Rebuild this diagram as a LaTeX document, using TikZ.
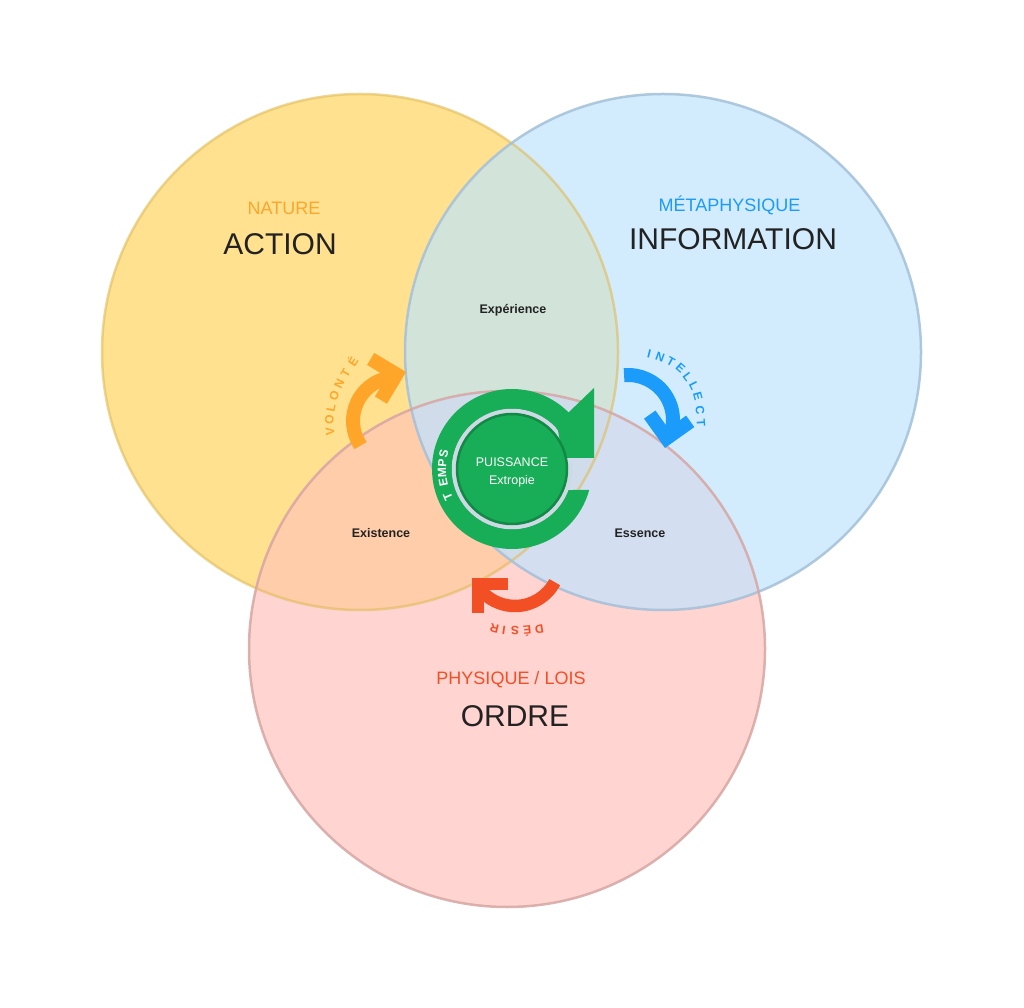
\documentclass[tikz,border=0pt]{standalone}
\usepackage{fontspec}
\setmainfont{Liberation Sans}
\usetikzlibrary{calc}
\definecolor{cy}{HTML}{FFE18F}
\definecolor{cb}{HTML}{D2ECFD}
\definecolor{cr}{HTML}{FFD4D1}
\definecolor{cyb}{HTML}{D2E4DA}
\definecolor{cyr}{HTML}{FFCDAA}
\definecolor{cbr}{HTML}{D3DFF1}
\definecolor{cybr}{HTML}{D0DCEA}
\definecolor{ybord}{HTML}{E0BB58}
\definecolor{bbord}{HTML}{A4C0D8}
\definecolor{rbord}{HTML}{D6A6A3}
\definecolor{gr}{HTML}{18AD57}
\definecolor{grdark}{HTML}{128A45}
\definecolor{ringgray}{HTML}{CFD9E5}
\definecolor{orangec}{HTML}{FFA52A}
\definecolor{bluec}{HTML}{1B9BFA}
\definecolor{redc}{HTML}{F24F25}
\definecolor{txtdark}{HTML}{222222}
\tikzset{
  biglabel/.style={font=\fontsize{30}{32}\selectfont, text=txtdark, anchor=base, inner sep=0pt},
  catlabel/.style={font=\fontsize{18}{20}\selectfont, anchor=base, inner sep=0pt},
  zonelabel/.style={font=\bfseries\fontsize{12.5}{14}\selectfont, text=txtdark, anchor=base, inner sep=0pt},
  arclet/.style={font=\bfseries\fontsize{12}{13}\selectfont, inner sep=0pt},
  corelabel/.style={font=\fontsize{12.5}{14}\selectfont, text=white, anchor=base, inner sep=0pt},
  bandarrow/.style={line width=14pt, line cap=butt},
  chevron/.style={line width=14pt, line join=miter, line cap=butt},
  rim/.style={line width=2.5pt, draw opacity=0.85},
}
\begin{document}
\begin{tikzpicture}[x=1pt,y=1pt]
\useasboundingbox (0,0) rectangle (1024,1007);
\fill[white] (0,0) rectangle (1024,1007);
\coordinate (Yc) at (360,655);
\coordinate (Bc) at (663,655);
\coordinate (Rc) at (507,358);
\def\rad{258}
% circle fills
\fill[cy] (Yc) circle (\rad);
\fill[cb] (Bc) circle (\rad);
\fill[cr] (Rc) circle (\rad);
\begin{scope}
  \clip (Yc) circle (\rad);
  \fill[cyb] (Bc) circle (\rad);
  \fill[cyr] (Rc) circle (\rad);
\end{scope}
\begin{scope}
  \clip (Bc) circle (\rad);
  \fill[cbr] (Rc) circle (\rad);
\end{scope}
\begin{scope}
  \clip (Yc) circle (\rad);
  \clip (Bc) circle (\rad);
  \fill[cybr] (Rc) circle (\rad);
\end{scope}
% rims
\draw[rim, ybord, draw opacity=0.6] (Yc) circle (\rad);
\draw[rim, bbord] (Bc) circle (\rad);
\draw[rim, rbord] (Rc) circle (\rad);

% labels
\node[catlabel, text=orangec] (nature) at (284,792) {NATURE};
\node[biglabel] (action) at (280,752) {ACTION};
\node[catlabel, text=bluec] (meta) at (729.5,795) {MÉTAPHYSIQUE};
\node[biglabel] (info) at (733,757) {INFORMATION};
\node[catlabel, text=redc] (phys) at (511,323) {PHYSIQUE / LOIS};
\node[biglabel] (ordre) at (515,281) {ORDRE};
\node[zonelabel] (exper) at (513,693) {Expérience};
\node[zonelabel] (exist) at (381,469) {Existence};
\node[zonelabel] (essen) at (640,469) {Essence};

% green circular arrow
\coordinate (G) at (512,538);
\fill[gr] ($(G)+(45:80)$) arc[start angle=45, end angle=344.8, radius=80]
  -- ($(G)+(339.5:60)$) arc[start angle=339.5, end angle=40, radius=60]
  -- (563,549) -- (594,549) -- (594,619) -- cycle;
\draw[ringgray, line width=4.5pt, line cap=round] ($(G)+(43:58)$) arc[start angle=43, end angle=365, radius=58];
\node[circle, fill=gr, draw=grdark, line width=2.5pt, minimum size=110pt, inner sep=0pt] (core) at (G) {};
\node[corelabel] (puis) at (512,540) {PUISSANCE};
\node[corelabel] (extr) at (512,522) {Extropie};
\foreach \l/\a [count=\i] in {T/203.4,E/191.4,M/182.7,P/174.8,S/167.7}{
  \pgfmathsetmacro\rr{\a-90}
  \node[arclet, text=white, rotate=\rr] (tmp\i) at ($(G)+(\a:70)$) {\l};
}

% orange arrow (VOLONTE)
\coordinate (Oc) at (397,586);
\coordinate (Ov) at (396.4,632.6);
\draw[orangec, bandarrow] ($(Oc)+(214:44)$) arc[start angle=214, end angle=104, radius=44] -- (Ov);
\draw[orangec, chevron] ($(Ov)+(149:30)$) -- (Ov) -- ($(Ov)+(239:30)$);
\foreach \l/\x/\y/\r [count=\i] in {V/330/575.3/93, O/329.3/587/88, L/331/598.7/79, O/334.3/611/71, N/339.3/622.7/64, T/345.7/633.7/60, É/352.3/645.3/57}{
  \node[arclet, text=orangec, rotate=\r] (vol\i) at (\x,\y) {\l};
}

% blue arrow (INTELLECT)
\coordinate (Bac) at (628,587);
\coordinate (Bv) at (666.6,568.8);
\draw[bluec, bandarrow] ($(Bac)+(95:45)$) arc[start angle=95, end angle=-9.5, radius=45] -- (Bv);
\draw[bluec, chevron] ($(Bv)+(125.5:29)$) -- (Bv) -- ($(Bv)+(35.5:29)$);
\foreach \l/\x/\y/\r [count=\i] in {I/649.3/653/-14, N/660/650.3/-20, T/670.7/645.3/-29, E/680.7/638.7/-41, L/687.7/630.3/-53, L/694/621/-63, E/698/610.3/-75, C/700/597/-83, T/701/583.7/-86}{
  \node[arclet, text=bluec, rotate=\r] (int\i) at (\x,\y) {\l};
}

% red arrow (DESIR)
\coordinate (Rac) at (515,446);
\coordinate (Rv) at (478,423);
\draw[redc, bandarrow, line width=12.5pt] ($(Rac)+(-28:45)$) arc[start angle=-28, end angle=-135, radius=45] -- (Rv);
\draw[redc, chevron, line width=12.5pt] ($(Rv)+(0:30)$) -- (Rv) -- ($(Rv)+(270:29)$);
\foreach \l/\x/\y/\r [count=\i] in {D/539.3/378/190, É/527.3/376.3/185, S/515/376/179, I/504/376.7/172, R/494.3/378.7/166}{
  \node[arclet, text=redc, rotate=\r] (des\i) at (\x,\y) {\l};
}
\end{tikzpicture}
\end{document}
